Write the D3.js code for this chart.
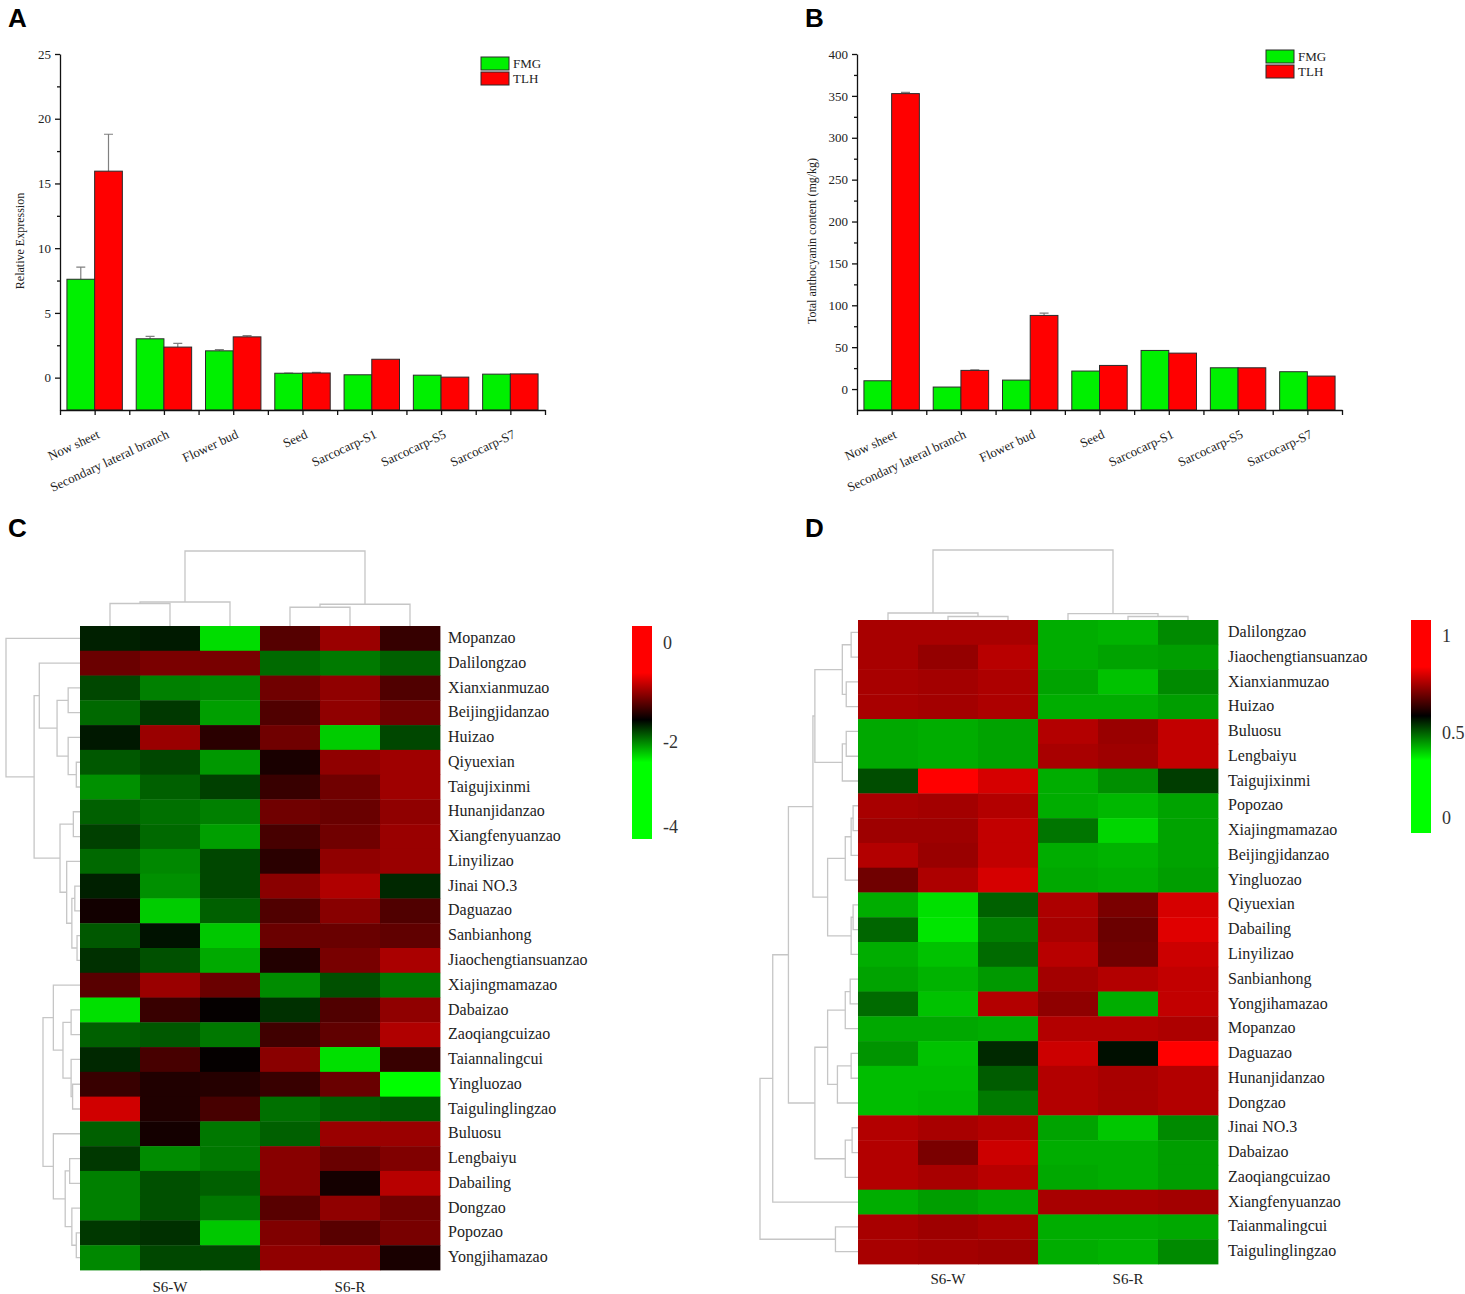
<!DOCTYPE html>
<html>
<head>
<meta charset="utf-8">
<script src="https://cdn.jsdelivr.net/npm/d3@7"></script>
<style>
  body { margin: 0; background: #fff; }
  svg { display: block; font-family: "Liberation Serif", "Times New Roman", serif; }
</style>
</head>
<body>
<svg id="fig" width="1465" height="1294"></svg>
<script>
// ---- bar panels (A, B) ----
const tissues = ["Now sheet", "Secondary lateral branch", "Flower bud", "Seed", "Sarcocarp-S1", "Sarcocarp-S5", "Sarcocarp-S7"];
const series = ["FMG", "TLH"];
const seriesColors = ["#00f000", "#ff0000"];

const exprFMG    = [7.6, 3.0, 2.07, 0.34, 0.22, 0.19, 0.27];
const exprFMGErr = [0.93, 0.18, 0.1, 0.02, 0, 0, 0];
const exprTLH    = [15.95, 2.36, 3.15, 0.36, 1.42, 0.04, 0.29];
const exprTLHErr = [2.85, 0.28, 0.1, 0.05, 0, 0, 0];

const anthoFMG    = [9.9, 2.4, 10.7, 21.5, 46.1, 25.4, 20.7];
const anthoFMGErr = [0, 0, 0, 0, 0, 0, 0];
const anthoTLH    = [352.7, 22.3, 87.9, 28.2, 42.9, 25.4, 15.5];
const anthoTLHErr = [1.6, 0.7, 2.8, 0, 0, 0, 0];

const exprTicks = [0, 5, 10, 15, 20, 25];
const exprMinor = [2.5, 7.5, 12.5, 17.5, 22.5];
const anthoTicks = [0, 50, 100, 150, 200, 250, 300, 350, 400];
const anthoMinor = [25, 75, 125, 175, 225, 275, 325, 375];

// ---- heatmaps (C, D) ----
const sampleGroups = ["S6-W", "S6-R"];
const columns = [0, 1, 2, 3, 4, 5];

const cultivarsC = ["Mopanzao", "Dalilongzao", "Xianxianmuzao", "Beijingjidanzao", "Huizao", "Qiyuexian",
  "Taigujixinmi", "Hunanjidanzao", "Xiangfenyuanzao", "Linyilizao", "Jinai NO.3", "Daguazao", "Sanbianhong",
  "Jiaochengtiansuanzao", "Xiajingmamazao", "Dabaizao", "Zaoqiangcuizao", "Taiannalingcui", "Yingluozao",
  "Taigulinglingzao", "Buluosu", "Lengbaiyu", "Dabailing", "Dongzao", "Popozao", "Yongjihamazao"];

const cValues = [
  [-2.25, -2.2, -3.73, -1.33, -0.79, -1.58],
  [-1.17, -1.04, -1.06, -2.83, -2.96, -2.75],
  [-2.56, -3.0, -3.07, -1.12, -0.87, -1.37],
  [-2.82, -2.44, -3.25, -1.37, -0.87, -1.12],
  [-2.19, -0.79, -1.67, -1.12, -3.6, -2.56],
  [-2.69, -2.56, -3.19, -1.8, -0.87, -0.75],
  [-3.13, -2.75, -2.5, -1.56, -1.12, -0.75],
  [-2.75, -2.88, -3.0, -1.12, -1.18, -0.87],
  [-2.5, -2.82, -3.25, -1.44, -1.12, -0.79],
  [-2.82, -3.07, -2.56, -1.67, -0.87, -0.79],
  [-2.25, -3.13, -2.56, -0.92, -0.62, -2.31],
  [-1.86, -3.6, -2.75, -1.37, -0.93, -1.37],
  [-2.69, -2.14, -3.57, -1.17, -1.18, -1.25],
  [-2.38, -2.63, -3.33, -1.73, -1.06, -0.67],
  [-1.31, -0.79, -1.17, -3.1, -2.63, -2.94],
  [-3.76, -1.56, -1.96, -2.38, -1.37, -0.87],
  [-2.75, -2.69, -2.94, -1.5, -1.25, -0.62],
  [-2.31, -1.44, -1.96, -0.92, -3.76, -1.56],
  [-1.56, -1.75, -1.71, -1.56, -1.18, -4.0],
  [-0.37, -1.75, -1.44, -2.88, -2.75, -2.69],
  [-2.75, -1.84, -2.94, -2.75, -0.79, -0.79],
  [-2.44, -3.1, -2.94, -0.93, -1.18, -1.0],
  [-3.0, -2.63, -2.75, -0.93, -1.84, -0.56],
  [-3.0, -2.63, -2.94, -1.31, -0.87, -1.11],
  [-2.44, -2.38, -3.57, -1.0, -1.31, -1.06],
  [-3.07, -2.56, -2.56, -0.87, -0.87, -1.8]
];

const cultivarsD = ["Dalilongzao", "Jiaochengtiansuanzao", "Xianxianmuzao", "Huizao", "Buluosu", "Lengbaiyu",
  "Taigujixinmi", "Popozao", "Xiajingmamazao", "Beijingjidanzao", "Yingluozao", "Qiyuexian", "Dabailing",
  "Linyilizao", "Sanbianhong", "Yongjihamazao", "Mopanzao", "Daguazao", "Hunanjidanzao", "Dongzao",
  "Jinai NO.3", "Dabaizao", "Zaoqiangcuizao", "Xiangfenyuanzao", "Taianmalingcui", "Taigulinglingzao"];

const dValues = [
  [0.83, 0.83, 0.83, 0.16, 0.15, 0.23],
  [0.83, 0.79, 0.86, 0.16, 0.18, 0.19],
  [0.83, 0.82, 0.84, 0.18, 0.12, 0.23],
  [0.83, 0.82, 0.84, 0.16, 0.16, 0.19],
  [0.17, 0.16, 0.18, 0.85, 0.80, 0.88],
  [0.17, 0.16, 0.18, 0.83, 0.81, 0.88],
  [0.35, 1.0, 0.92, 0.16, 0.22, 0.38],
  [0.83, 0.82, 0.85, 0.16, 0.14, 0.18],
  [0.81, 0.81, 0.88, 0.27, 0.08, 0.18],
  [0.85, 0.80, 0.88, 0.16, 0.15, 0.18],
  [0.72, 0.84, 0.92, 0.17, 0.16, 0.19],
  [0.16, 0.06, 0.31, 0.84, 0.74, 0.92],
  [0.30, 0.05, 0.25, 0.83, 0.71, 0.94],
  [0.16, 0.12, 0.29, 0.86, 0.72, 0.90],
  [0.18, 0.15, 0.20, 0.82, 0.85, 0.88],
  [0.29, 0.12, 0.85, 0.78, 0.16, 0.88],
  [0.17, 0.17, 0.16, 0.85, 0.85, 0.84],
  [0.21, 0.12, 0.42, 0.90, 0.47, 1.0],
  [0.13, 0.13, 0.32, 0.85, 0.83, 0.85],
  [0.13, 0.14, 0.26, 0.85, 0.83, 0.85],
  [0.85, 0.83, 0.85, 0.18, 0.11, 0.23],
  [0.85, 0.74, 0.90, 0.16, 0.16, 0.19],
  [0.85, 0.83, 0.86, 0.17, 0.16, 0.19],
  [0.16, 0.19, 0.17, 0.83, 0.83, 0.82],
  [0.83, 0.81, 0.83, 0.16, 0.16, 0.17],
  [0.83, 0.82, 0.81, 0.16, 0.15, 0.23]
];

// dendrograms: [height, left, right], leaves are row / column indices
const cRowTrees = [
  [1.0, 0, [0.62, [0.55, 1, [0.31, [0.16, 2, 3], [0.16, 4, [0.05, 5, 6]]]],
                 [0.27, [0.09, 7, 8], [0.18, 9, [0.11, [0.07, 10, 11], [0.04, 12, 13]]]]]],
  [0.5, [0.36, 14, [0.23, [0.12, 15, 16], [0.12, 17, [0.1, 18, 19]]]],
        [0.36, 20, [0.2, [0.14, 21, 22], [0.11, 23, [0.05, 24, 25]]]]]
];
const cColTree = [1.0, [0.32, [0.3, 0, 1], 2], [0.29, [0.25, 3, 4], 5]];

const dRowTrees = [
  [1.0,
    [0.87,
      [0.71,
        [0.46,
          [0.44, [0.16, [0.07, 0, 1], [0.12, 2, 3]], [0.16, [0.12, 4, 5], 6]],
          [0.31, [0.13, [0.07, [0.05, 7, 8], 9], 10], [0.07, [0.05, 11, 12], 13]]],
        [0.44,
          [0.31, [0.13, [0.08, 14, 15], 16], [0.21, [0.07, 17, 18], 19]],
          [0.13, [0.06, 20, 21], 22]]],
      23],
    [0.23, 24, 25]]
];
const dColTree = [1.0, [0.1, 0, [0.05, 1, 2]], [0.09, 3, [0.05, 4, 5]]];

const cScaleTicks = [0, -2, -4];
const dScaleTicks = [1, 0.5, 0];

// ------------------------------------------------------------
const svg = d3.select('#fig');
svg.append('rect').attr('width', 1465).attr('height', 1294).attr('fill', '#fff');

function panelLetter(t, x, y) {
  svg.append('text').attr('x', x).attr('y', y).text(t)
    .attr('font-family', '"Liberation Sans", Arial, sans-serif')
    .attr('font-weight', 'bold').attr('font-size', 26).attr('fill', '#000');
}

function drawBarPanel(p) {
  const g = svg.append('g');
  const y = d3.scaleLinear().domain(p.domain).range([p.yBottom, p.yTop]);
  const xb = d3.scaleBand().domain(tissues).range([p.x0, p.x1]).paddingInner(0.2).paddingOuter(0.1);
  const xs = d3.scaleBand().domain(series).range([0, xb.bandwidth()]);
  const color = d3.scaleOrdinal().domain(series).range(seriesColors);

  const data = tissues.map((t, i) => ({
    t,
    vals: [
      { s: 'FMG', v: p.fmg[i], e: p.fmgErr[i] },
      { s: 'TLH', v: p.tlh[i], e: p.tlhErr[i] }
    ]
  }));

  const groups = g.selectAll('.grp').data(data).enter().append('g')
    .attr('transform', d => `translate(${xb(d.t)},0)`);

  // error bars (upper half only)
  groups.selectAll('.err').data(d => d.vals.filter(v => v.e > 0)).enter().append('path')
    .attr('d', d => {
      const cx = xs(d.s) + xs.bandwidth() / 2;
      return `M${cx},${y(d.v)}V${y(d.v + d.e)}M${cx - 4.5},${y(d.v + d.e)}H${cx + 4.5}`;
    })
    .attr('stroke', '#808080').attr('stroke-width', 1.2).attr('fill', 'none');

  groups.selectAll('rect').data(d => d.vals).enter().append('rect')
    .attr('x', d => xs(d.s))
    .attr('y', d => y(d.v))
    .attr('width', xs.bandwidth())
    .attr('height', d => y(p.domain[0]) - y(d.v))
    .attr('fill', d => color(d.s))
    .attr('stroke', '#2a2a2a').attr('stroke-width', 1);

  // y axis, major + minor
  const ya = g.append('g').attr('transform', `translate(${p.x0},0)`)
    .call(d3.axisLeft(y).tickValues(p.major).tickSize(5).tickSizeOuter(0).tickPadding(4).tickFormat(d3.format('d')));
  g.append('g').attr('transform', `translate(${p.x0},0)`)
    .call(d3.axisLeft(y).tickValues(p.minor).tickSize(3).tickSizeOuter(0).tickFormat(''))
    .call(a => a.select('.domain').remove());

  // x axis: ticks at category edges and centres
  const xl = d3.scaleLinear().domain([0, tissues.length]).range([p.x0, p.x1]);
  g.append('g').attr('transform', `translate(0,${p.yBottom})`)
    .call(d3.axisBottom(xl).tickValues(d3.range(0, tissues.length + 0.01, 0.5)).tickSize(5).tickSizeOuter(0).tickFormat(''));

  g.selectAll('.domain, .tick line').attr('stroke', '#111').attr('stroke-width', 1.3);
  ya.attr('font-family', null);
  ya.selectAll('text').attr('font-size', 13).attr('fill', '#222');

  // category labels
  g.selectAll('.cat').data(tissues).enter().append('text')
    .attr('transform', d => `translate(${xb(d) + xb.bandwidth() / 2 + 2},${p.yBottom + 19}) rotate(-25)`)
    .attr('text-anchor', 'end').attr('dy', '0.71em')
    .attr('font-size', 13).attr('fill', '#222').text(d => d);

  // y title
  g.append('text')
    .attr('transform', `translate(${p.titleX},${(p.yTop + p.yBottom) / 2 + 9}) rotate(-90)`)
    .attr('text-anchor', 'middle').attr('dy', '0.35em')
    .attr('font-size', 12).attr('fill', '#222').text(p.title);

  // legend
  const lg = g.append('g').attr('transform', `translate(${p.legendX},${p.legendY})`);
  series.forEach((s, i) => {
    lg.append('rect').attr('x', 0).attr('y', i * 15).attr('width', 28).attr('height', 13)
      .attr('fill', color(s)).attr('stroke', '#2a2a2a').attr('stroke-width', 1);
    lg.append('text').attr('x', 32).attr('y', i * 15 + 6.5).attr('dy', '0.35em')
      .attr('font-size', 13).attr('fill', '#222').text(s);
  });
}

drawBarPanel({
  x0: 60, x1: 545, yTop: 54, yBottom: 410, domain: [-2.5, 25],
  major: exprTicks, minor: exprMinor,
  fmg: exprFMG, fmgErr: exprFMGErr, tlh: exprTLH, tlhErr: exprTLHErr,
  title: 'Relative Expression', titleX: 20, legendX: 481, legendY: 57
});
drawBarPanel({
  x0: 857, x1: 1342, yTop: 54, yBottom: 410, domain: [-25, 400],
  major: anthoTicks, minor: anthoMinor,
  fmg: anthoFMG, fmgErr: anthoFMGErr, tlh: anthoTLH, tlhErr: anthoTLHErr,
  title: 'Total anthocyanin content (mg/kg)', titleX: 812, legendX: 1266, legendY: 50
});

panelLetter('A', 8, 27);
panelLetter('B', 805, 27);
panelLetter('C', 8, 537);
panelLetter('D', 805, 537);

// ---- heatmap helper ----
function dendroSegs(tree, pos) {
  const segs = [];
  (function walk(n) {
    if (typeof n === 'number') return { p: pos(n), h: 0 };
    const a = walk(n[1]), b = walk(n[2]);
    segs.push({ p0: a.p, p1: b.p, h: n[0], ha: a.h, hb: b.h });
    return { p: (a.p + b.p) / 2, h: n[0] };
  })(tree);
  return segs;
}

function drawHeatmap(p) {
  const g = svg.append('g');
  const xb = d3.scaleBand().domain(columns).range([p.x0, p.x1]);
  const yb = d3.scaleBand().domain(d3.range(p.rows.length)).range([p.y0, p.y1]);

  const cells = [];
  p.values.forEach((row, r) => row.forEach((v, c) => cells.push({ r, c, v })));
  g.selectAll('.cell').data(cells).enter().append('rect')
    .attr('x', d => xb(d.c)).attr('y', d => yb(d.r))
    .attr('width', xb.bandwidth() + 0.4).attr('height', yb.bandwidth() + 0.4)
    .attr('fill', d => p.color(d.v));

  // row labels
  g.selectAll('.rl').data(p.rows).enter().append('text')
    .attr('x', p.x1 + p.labelGap).attr('y', (d, i) => yb(i) + yb.bandwidth() / 2 - 1)
    .attr('dy', '0.35em').attr('font-size', 16).attr('fill', '#222').text(d => d);

  // column group labels
  sampleGroups.forEach((s, i) => {
    const cx = d3.mean(columns.slice(i * 3, i * 3 + 3), c => xb(c) + xb.bandwidth() / 2);
    g.append('text').attr('x', cx).attr('y', p.y1 + p.colLabelGap).attr('dy', '0.35em')
      .attr('text-anchor', 'middle').attr('font-size', 15).attr('fill', '#222').text(s);
  });

  // row dendrogram
  const hr = d3.scaleLinear().domain([0, 1]).range([0, p.rowDendroW]);
  const rowPos = i => yb(i) + yb.bandwidth() / 2;
  const X = h => p.x0 - hr(h);
  p.rowTrees.forEach(tree => {
    g.selectAll(null).data(dendroSegs(tree, rowPos)).enter().append('path')
      .attr('d', s => `M${X(s.ha)},${s.p0}H${X(s.h)}V${s.p1}H${X(s.hb)}`)
      .attr('fill', 'none').attr('stroke', '#c6c6c6').attr('stroke-width', 1.3);
  });

  // column dendrogram
  const hc = d3.scaleLinear().domain([0, 1]).range([0, p.colDendroH]);
  const colPos = c => xb(c) + xb.bandwidth() / 2;
  const Y = h => p.y0 - hc(h);
  g.selectAll(null).data(dendroSegs(p.colTree, colPos)).enter().append('path')
    .attr('d', s => `M${s.p0},${Y(s.ha)}V${Y(s.h)}H${s.p1}V${Y(s.hb)}`)
    .attr('fill', 'none').attr('stroke', '#c6c6c6').attr('stroke-width', 1.3);

  // colour key
  const gid = 'grad' + p.id;
  const grad = svg.append('defs').append('linearGradient').attr('id', gid)
    .attr('x1', 0).attr('y1', 0).attr('x2', 0).attr('y2', 1);
  p.keyStops.forEach(s => grad.append('stop').attr('offset', s[0]).attr('stop-color', p.color(s[1])));
  g.append('rect').attr('x', p.keyX).attr('y', p.keyY0).attr('width', 20).attr('height', p.keyY1 - p.keyY0)
    .attr('fill', `url(#${gid})`);
  const ky = d3.scaleLinear().domain(p.keyTicks).range(p.keyTickY);
  g.selectAll('.kt').data(p.keyTicks).enter().append('text')
    .attr('x', p.keyX + 31).attr('y', d => ky(d)).attr('dy', '0.35em')
    .attr('font-size', 18).attr('fill', '#333').text(d => d < 0 ? '-' + Math.abs(d) : d);
}

drawHeatmap({
  id: 'C', rows: cultivarsC, values: cValues,
  color: d3.scaleLinear().domain([-4, -2, 0]).range(['#00ff00', '#000000', '#ff0000']).clamp(true),
  x0: 80, x1: 440, y0: 626, y1: 1270, labelGap: 8, colLabelGap: 17,
  rowTrees: cRowTrees, rowDendroW: 74, colTree: cColTree, colDendroH: 75,
  keyX: 632, keyY0: 626, keyY1: 839,
  keyStops: [[0, 0], [0.22, 0], [0.44, -2], [0.64, -4], [1, -4]],
  keyTicks: cScaleTicks, keyTickY: [643, 742, 827]
});

drawHeatmap({
  id: 'D', rows: cultivarsD, values: dValues,
  color: d3.scaleLinear().domain([0, 0.5, 1]).range(['#00ff00', '#000000', '#ff0000']).clamp(true),
  x0: 858, x1: 1218, y0: 620, y1: 1264, labelGap: 10, colLabelGap: 15,
  rowTrees: dRowTrees, rowDendroW: 98, colTree: dColTree, colDendroH: 70,
  keyX: 1411, keyY0: 620, keyY1: 833,
  keyStops: [[0, 1], [0.22, 1], [0.45, 0.5], [0.66, 0], [1, 0]],
  keyTicks: dScaleTicks, keyTickY: [636, 733, 818]
});
</script>
</body>
</html>
